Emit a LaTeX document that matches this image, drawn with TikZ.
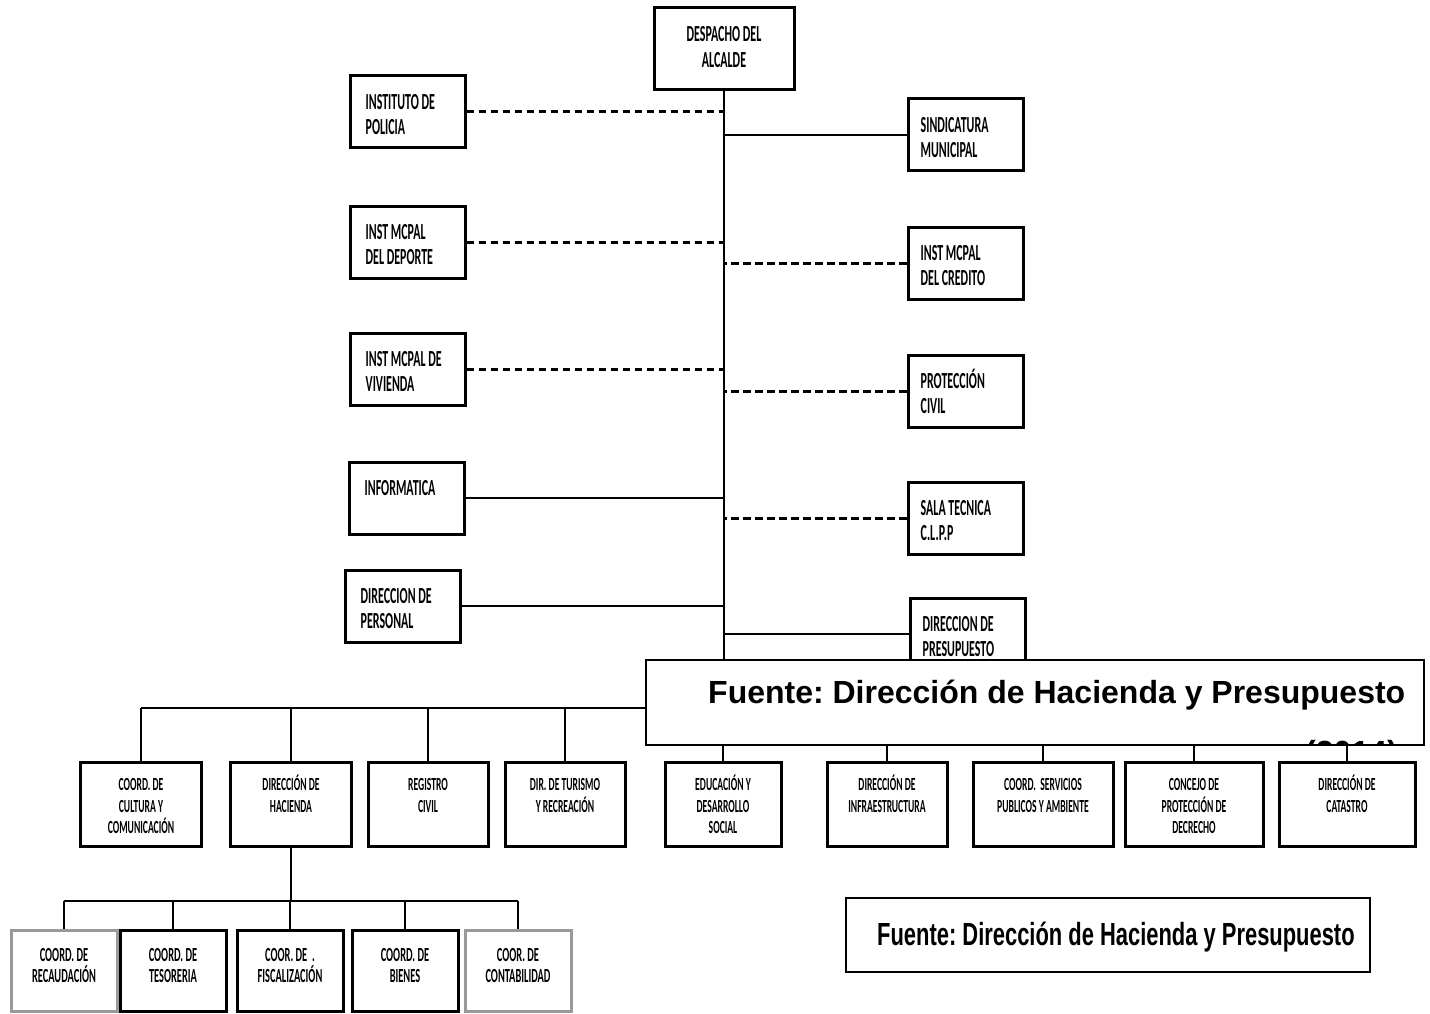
\documentclass[tikz,border=0pt]{standalone}
\usepackage{fontspec}
\setmainfont{Carlito}
\newfontfamily\boxfont[FakeStretch=0.52]{Carlito}
\newfontfamily\srcfont{Liberation Sans}
\newfontfamily\srcnarrow[FakeStretch=0.685]{Liberation Sans}
\usetikzlibrary{positioning,calc}
\newcommand\firstline{\rule{0pt}{1em}}

\tikzset{
  unit/.style={draw=black, fill=white, line width=3pt, inner sep=0pt},
  sidebox/.style={unit, minimum width=115pt, minimum height=72pt},
  headbox/.style={unit, minimum width=140pt, minimum height=82pt},
  depbox/.style={unit, minimum height=84pt},
  subbox/.style={unit, minimum width=106pt, minimum height=81pt},
  faded/.style={draw=black!40},
  % texts inside the boxes
  sidetxt/.style={inner sep=0pt, align=left, anchor=north west,
    font={\boxfont\bfseries\fontsize{23}{25}\selectfont}},
  headtxt/.style={sidetxt, align=center, anchor=north,
    font={\boxfont\bfseries\fontsize{23}{26}\selectfont}},
  deptxt/.style={sidetxt, align=center, anchor=north,
    font={\boxfont\bfseries\fontsize{18.5}{21.5}\selectfont}},
  subtxt/.style={sidetxt, align=center, anchor=north,
    font={\boxfont\bfseries\fontsize{20}{21}\selectfont}},
  % connectors
  wire/.style={line width=2.2pt, draw=black},
  trunk/.style={line width=1.6pt, draw=black},
  dotted line/.style={line width=3pt, draw=black, dash pattern=on 7.5pt off 4.5pt},
  % the source notes
  srcbox/.style={draw=black, fill=white, line width=1.6pt, inner sep=0pt},
  srctxt/.style={inner sep=0pt, anchor=base west, font={\frenchspacing\srcfont\bfseries\fontsize{32}{38}\selectfont}},
  srcnote/.style={inner sep=0pt, anchor=base west, font={\frenchspacing\srcnarrow\bfseries\fontsize{32}{38}\selectfont}},
}

\begin{document}
\begin{tikzpicture}[x=1pt,y=-1pt]
  \fill[white] (0,0) rectangle (1430,1014);
  \useasboundingbox (0,0) rectangle (1430,1014);

  % head
  \node[headbox] (alc) at (724,49) {};
  \node[headtxt, below=12pt of alc.north] (alc-t) {\firstline DESPACHO DEL\\ALCALDE};
  \coordinate (bus) at (724,708);
  \draw[trunk] (alc.south) -- (alc.south |- bus);

  % left column
  \foreach \nm/\cx/\cy/\ln/\txt in {ipol/407.5/112/dotted line/{INSTITUTO DE\\POLICIA},
                                    idep/407.5/242/dotted line/{INST MCPAL\\DEL DEPORTE},
                                    iviv/407.5/369/dotted line/{INST MCPAL DE\\VIVIENDA},
                                    info/406.5/498/wire/{INFORMATICA},
                                    pers/402.5/606/wire/{DIRECCION DE\\PERSONAL}} {
    \node[sidebox] (\nm) at (\cx,\cy) {};
    \node[sidetxt, below right=11.5pt and 17pt of \nm.north west] (\nm-t) {\firstline\txt};
    \draw[\ln] (\nm.east) -- (\nm.east -| alc.south);
  }

  % right column
  \foreach \nm/\cx/\cy/\ln/\txt in {sind/965.5/135/wire/{SINDICATURA\\MUNICIPAL},
                                    icre/965.5/263/dotted line/{INST MCPAL\\DEL CREDITO},
                                    pciv/965.5/391/dotted line/{PROTECCIÓN\\CIVIL},
                                    sala/965.5/518/dotted line/{SALA TECNICA\\C.L.P.P},
                                    pres/967.5/634/wire/{DIRECCION DE\\PRESUPUESTO}} {
    \node[sidebox] (\nm) at (\cx,\cy) {};
    \node[sidetxt, below right=12pt and 14pt of \nm.north west] (\nm-t) {\firstline\txt};
    \draw[\ln] (\nm.west) -- (\nm.west -| alc.south);
  }

  % dependencies
  \foreach \nm/\cx/\w/\txt in {cult/141/121/{COORD. DE\\CULTURA Y\\COMUNICACIÓN},
                               hac/291/121/{DIRECCIÓN DE\\HACIENDA},
                               reg/428/120/{REGISTRO\\CIVIL},
                               tur/565/120/{DIR. DE TURISMO\\Y RECREACIÓN},
                               edu/723/116/{EDUCACIÓN Y\\DESARROLLO\\SOCIAL},
                               inf/887/120/{DIRECCIÓN DE\\INFRAESTRUCTURA},
                               serv/1043/140/{COORD.\ \ SERVICIOS\\PUBLICOS Y AMBIENTE},
                               conc/1194/138/{CONCEJO DE\\PROTECCIÓN DE\\DECRECHO},
                               cat/1347/136/{DIRECCIÓN DE\\CATASTRO}} {
    \node[depbox, minimum width=\w pt] (\nm) at (\cx,804) {};
    \node[deptxt, below=11.5pt of \nm.north] (\nm-t) {\firstline\txt};
    \draw[wire] (\nm.north |- bus) -- (\nm.north);
  }
  \draw[wire] (cult.north |- bus) -- (cat.north |- bus);

  % under hacienda
  \coordinate (sbus) at (291,901);
  \draw[trunk] (hac.south) -- (hac.south |- sbus);
  \foreach \nm/\cx/\st/\txt in {rec/64/faded/{COORD. DE\\RECAUDACIÓN},
                                tes/173/unit/{COORD. DE\\TESORERIA},
                                fis/290/unit/{COOR. DE \ .\\FISCALIZACIÓN},
                                bie/405/unit/{COORD. DE\\BIENES},
                                con/518/faded/{COOR. DE\\CONTABILIDAD}} {
    \node[subbox, \st] (\nm) at (\cx,971) {};
    \node[subtxt, below=12pt of \nm.north] (\nm-t) {\firstline\txt};
    \draw[trunk] (\nm.north |- sbus) -- (\nm.north);
  }
  \draw[wire] (rec.north |- sbus) -- (con.north |- sbus);

  % source note, lower right
  \node[srcbox, line width=2.4pt, minimum width=524pt, minimum height=74pt] (src2) at (1108,935) {};
  \node[srcnote] (src2-t) at (877,945) {Fuente: Dirección de Hacienda y Presupuesto};

  % source note pasted over the chart
  \node[srcbox, minimum width=778pt, minimum height=85pt] (src1) at (1035,702.5) {};
  \node[srctxt] (src1-t) at (708,703) {Fuente: Dirección de Hacienda y Presupuesto};
  \begin{scope}
    \clip (src1.north west) rectangle (src1.south east);
    \node[srctxt] (src1-y) at (1305,763) {(2014)};
  \end{scope}
\end{tikzpicture}
\end{document}
